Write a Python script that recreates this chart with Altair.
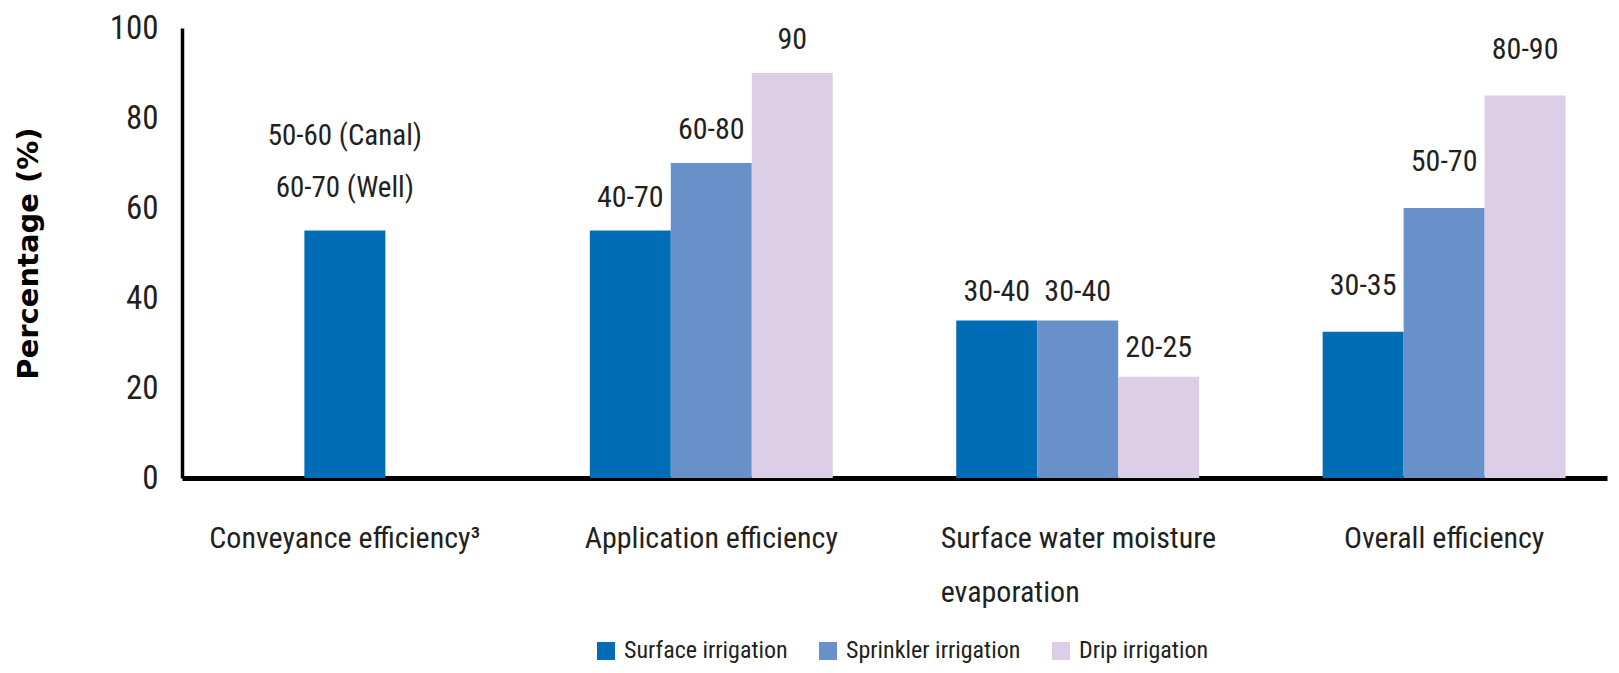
import altair as alt
import pandas as pd

# ---------------- data ----------------
categories = [
    "Conveyance efficiency³",
    "Application efficiency",
    "Surface water moisture\nevaporation",
    "Overall efficiency",
]
series = ["Surface irrigation", "Sprinkler irrigation", "Drip irrigation"]

surface_vals = [55, 55, 35, 32.5]
sprinkler_vals = [None, 70, 35, 60]
drip_vals = [None, 90, 22.5, 85]

surface_labels = ["50-60 (Canal)\n60-70 (Well)", "40-70", "30-40", "30-35"]
sprinkler_labels = [None, "60-80", "30-40", "50-70"]
drip_labels = [None, "90", "20-25", "80-90"]

y_ticks = [0, 20, 40, 60, 80, 100]

colors = ["#006db6", "#6991c9", "#dbcee6"]

# ---------------- styling helpers ----------------
NARROW = "'Roboto Condensed', 'Liberation Sans Narrow', 'DejaVu Sans Condensed', sans-serif"
TXT = "#231f20"
PX_PER_UNIT = 4.5
label_gap_px = {categories[0]: 95, categories[1]: 33, categories[2]: 29, categories[3]: 46}

rows = []
for vals, labs, s in [(surface_vals, surface_labels, series[0]),
                      (sprinkler_vals, sprinkler_labels, series[1]),
                      (drip_vals, drip_labels, series[2])]:
    for c, v, l in zip(categories, vals, labs):
        if v is None:
            continue
        rows.append({"category": c, "series": s, "value": v, "label": l,
                     "label_y": v + label_gap_px[c] / PX_PER_UNIT})
df = pd.DataFrame(rows)
df_conv = df[df["category"] == categories[0]]
df_grp = df[df["category"] != categories[0]]

is_multi = "indexof(datum.value, 'evaporation') >= 0"

x_axis = alt.Axis(
    title=None, labelAngle=0, ticks=False, domainColor="black", domainWidth=5,
    labelFont=NARROW, labelFontSize=30, labelColor=TXT, labelPadding=45,
    labelLineHeight=54, labelLimit=600,
    labelAlign={"condition": {"test": is_multi, "value": "left"}, "value": "center"},
    labelOffset={"condition": {"test": is_multi, "value": -137}, "value": 0},
    labelExpr="split(datum.value, '\\n')",
)
x_enc = alt.X(
    "category:N",
    sort=categories,
    scale=alt.Scale(domain=categories, paddingInner=0.337, paddingOuter=0.113),
    axis=x_axis,
)
y_scale = alt.Scale(domain=[0, 100], nice=False)
y_axis = alt.Axis(
    title="Percentage (%)", values=y_ticks, ticks=False,
    grid=False, domainColor="black", domainWidth=3.5,
    labelFont=NARROW, labelFontSize=33, labelColor=TXT, labelPadding=24,
    titleFont="DejaVu Sans", titleFontWeight="bold", titleFontSize=29,
    titleColor="black", titlePadding=66,
)
color_enc = alt.Color(
    "series:N",
    scale=alt.Scale(domain=series, range=colors),
    legend=alt.Legend(
        title=None, orient="none", direction="horizontal", legendX=412, legendY=611,
        symbolType="square", symbolSize=324, symbolStrokeWidth=0,
        labelFont=NARROW, labelFontSize=24, labelColor=TXT, columnPadding=28,
        labelOffset=6, labelLimit=400,
    ),
)

bars_grp = alt.Chart(df_grp).mark_bar().encode(
    x=x_enc,
    xOffset=alt.XOffset("series:N", sort=series,
                        scale=alt.Scale(domain=series, paddingInner=0, paddingOuter=0)),
    y=alt.Y("value:Q", scale=y_scale, axis=y_axis),
    color=color_enc,
)
bar_conv = alt.Chart(df_conv).mark_bar(size=81).encode(
    x=alt.X("category:N", sort=categories, axis=x_axis),
    y=alt.Y("value:Q", scale=y_scale, axis=y_axis),
    color=alt.Color("series:N"),
)
text_grp = alt.Chart(df_grp).mark_text(
    baseline="middle", font=NARROW, fontSize=30, color=TXT
).encode(
    x=alt.X("category:N", sort=categories, axis=x_axis),
    xOffset=alt.XOffset("series:N", sort=series),
    y=alt.Y("label_y:Q", scale=y_scale, axis=y_axis),
    text="label:N",
)
text_conv = alt.Chart(df_conv).mark_text(
    baseline="middle", font=NARROW, fontSize=29, color=TXT, lineBreak="\n", lineHeight=52
).encode(
    x=alt.X("category:N", sort=categories, axis=x_axis),
    y=alt.Y("label_y:Q", scale=y_scale, axis=y_axis),
    text="label:N",
)

chart = (
    alt.layer(bars_grp, bar_conv, text_grp, text_conv)
    .properties(
        width=1425, height=450,
        autosize=alt.AutoSizeParams(type="none"),
        padding={"left": 174, "top": 20, "right": 4, "bottom": 187},
        background="white",
    )
    .configure_view(strokeWidth=0)
)

chart.save("out.html", embed_options={"renderer": "svg", "actions": False})
